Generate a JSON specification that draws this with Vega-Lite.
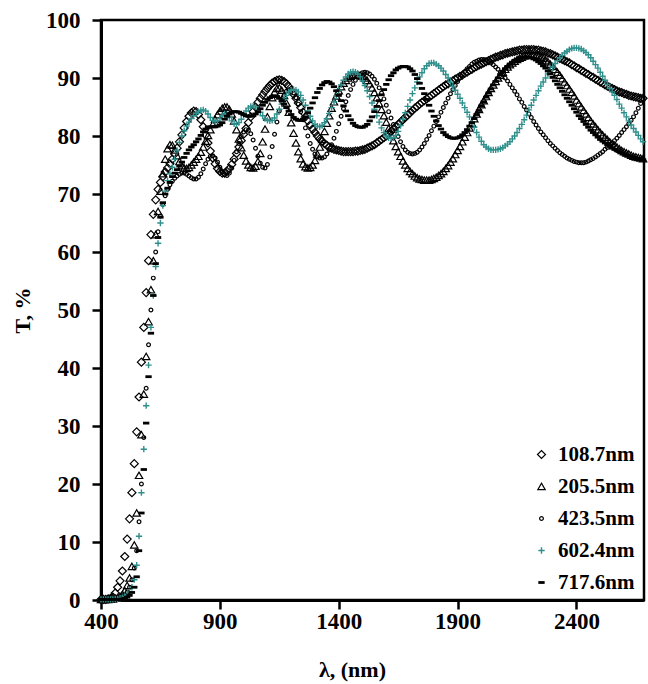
{
  "$schema": "https://vega.github.io/schema/vega-lite/v6.json",
  "width": 543,
  "height": 580,
  "autosize": {"type": "none"},
  "padding": {"left": 101, "top": 20, "right": 4, "bottom": 84},
  "background": "white",
  "config": {
    "font": "Liberation Serif",
    "view": {"stroke": "black", "strokeWidth": 2.5},
    "axis": {
      "grid": false,
      "labelFont": "Liberation Serif",
      "labelFontWeight": "bold",
      "labelFontSize": 23,
      "labelColor": "black",
      "labelFlush": false,
      "labelOverlap": false,
      "titleFont": "Liberation Serif",
      "titleFontWeight": "bold",
      "titleFontSize": 22,
      "titleColor": "black",
      "domainColor": "black",
      "domainWidth": 3,
      "tickColor": "black",
      "tickWidth": 2.5,
      "tickSize": 9
    },
    "legend": {
      "orient": "none",
      "legendX": 430,
      "legendY": 424,
      "padding": 0,
      "labelFont": "Liberation Serif",
      "labelFontWeight": "bold",
      "labelFontSize": 21,
      "labelColor": "black",
      "labelOffset": 6,
      "rowPadding": 10,
      "symbolOpacity": 1
    }
  },
  "data": {
    "values": [
      {"s":"108.7nm","nm":400,"T":0.1},{"s":"108.7nm","nm":410,"T":0.1},{"s":"108.7nm","nm":420,"T":0.1},{"s":"108.7nm","nm":430,"T":0.2},{"s":"108.7nm","nm":440,"T":0.3},{"s":"108.7nm","nm":450,"T":0.5},{"s":"108.7nm","nm":460,"T":1.2},{"s":"108.7nm","nm":470,"T":2.2},{"s":"108.7nm","nm":480,"T":3.3},{"s":"108.7nm","nm":490,"T":5},
      {"s":"108.7nm","nm":500,"T":7.5},{"s":"108.7nm","nm":510,"T":10.5},{"s":"108.7nm","nm":520,"T":14},{"s":"108.7nm","nm":530,"T":18.5},{"s":"108.7nm","nm":540,"T":23.5},{"s":"108.7nm","nm":550,"T":29},{"s":"108.7nm","nm":560,"T":35},{"s":"108.7nm","nm":570,"T":41},{"s":"108.7nm","nm":580,"T":47},{"s":"108.7nm","nm":590,"T":53},
      {"s":"108.7nm","nm":600,"T":58.5},{"s":"108.7nm","nm":610,"T":63},{"s":"108.7nm","nm":620,"T":66.5},{"s":"108.7nm","nm":630,"T":69},{"s":"108.7nm","nm":640,"T":70.8},{"s":"108.7nm","nm":650,"T":72},{"s":"108.7nm","nm":660,"T":73},{"s":"108.7nm","nm":670,"T":73.8},{"s":"108.7nm","nm":680,"T":74.5},{"s":"108.7nm","nm":690,"T":75.2},
      {"s":"108.7nm","nm":700,"T":76},{"s":"108.7nm","nm":710,"T":76.9},{"s":"108.7nm","nm":720,"T":77.9},{"s":"108.7nm","nm":730,"T":79},{"s":"108.7nm","nm":740,"T":80.2},{"s":"108.7nm","nm":750,"T":81.4},{"s":"108.7nm","nm":760,"T":82.5},{"s":"108.7nm","nm":770,"T":83.4},{"s":"108.7nm","nm":780,"T":84},{"s":"108.7nm","nm":790,"T":84.3},
      {"s":"108.7nm","nm":800,"T":84.2},{"s":"108.7nm","nm":810,"T":83.7},{"s":"108.7nm","nm":820,"T":82.8},{"s":"108.7nm","nm":830,"T":81.6},{"s":"108.7nm","nm":840,"T":80.2},{"s":"108.7nm","nm":850,"T":78.8},{"s":"108.7nm","nm":860,"T":77.4},{"s":"108.7nm","nm":870,"T":76.2},{"s":"108.7nm","nm":880,"T":75.2},{"s":"108.7nm","nm":890,"T":74.4},
      {"s":"108.7nm","nm":900,"T":73.9},{"s":"108.7nm","nm":910,"T":73.6},{"s":"108.7nm","nm":920,"T":73.6},{"s":"108.7nm","nm":930,"T":73.9},{"s":"108.7nm","nm":940,"T":74.4},{"s":"108.7nm","nm":950,"T":75.1},{"s":"108.7nm","nm":960,"T":76},{"s":"108.7nm","nm":970,"T":77},{"s":"108.7nm","nm":980,"T":78.1},{"s":"108.7nm","nm":990,"T":79.2},
      {"s":"108.7nm","nm":1000,"T":80.3},{"s":"108.7nm","nm":1010,"T":81.3},{"s":"108.7nm","nm":1020,"T":82.3},{"s":"108.7nm","nm":1030,"T":83.3},{"s":"108.7nm","nm":1040,"T":84.2},{"s":"108.7nm","nm":1050,"T":85},{"s":"108.7nm","nm":1060,"T":85.8},{"s":"108.7nm","nm":1070,"T":86.5},{"s":"108.7nm","nm":1080,"T":87.1},{"s":"108.7nm","nm":1090,"T":87.7},
      {"s":"108.7nm","nm":1100,"T":88.2},{"s":"108.7nm","nm":1110,"T":88.7},{"s":"108.7nm","nm":1120,"T":89.1},{"s":"108.7nm","nm":1130,"T":89.4},{"s":"108.7nm","nm":1140,"T":89.6},{"s":"108.7nm","nm":1150,"T":89.7},{"s":"108.7nm","nm":1160,"T":89.6},{"s":"108.7nm","nm":1170,"T":89.4},{"s":"108.7nm","nm":1180,"T":89},{"s":"108.7nm","nm":1190,"T":88.5},
      {"s":"108.7nm","nm":1200,"T":87.9},{"s":"108.7nm","nm":1210,"T":87.2},{"s":"108.7nm","nm":1220,"T":86.5},{"s":"108.7nm","nm":1230,"T":85.7},{"s":"108.7nm","nm":1240,"T":84.9},{"s":"108.7nm","nm":1250,"T":84.1},{"s":"108.7nm","nm":1260,"T":83.3},{"s":"108.7nm","nm":1270,"T":82.6},{"s":"108.7nm","nm":1280,"T":81.9},{"s":"108.7nm","nm":1290,"T":81.2},
      {"s":"108.7nm","nm":1300,"T":80.6},{"s":"108.7nm","nm":1310,"T":80},{"s":"108.7nm","nm":1320,"T":79.5},{"s":"108.7nm","nm":1330,"T":79.1},{"s":"108.7nm","nm":1340,"T":78.7},{"s":"108.7nm","nm":1350,"T":78.4},{"s":"108.7nm","nm":1360,"T":78.1},{"s":"108.7nm","nm":1370,"T":77.9},{"s":"108.7nm","nm":1380,"T":77.7},{"s":"108.7nm","nm":1390,"T":77.6},
      {"s":"108.7nm","nm":1400,"T":77.5},{"s":"108.7nm","nm":1410,"T":77.4},{"s":"108.7nm","nm":1420,"T":77.3},{"s":"108.7nm","nm":1430,"T":77.3},{"s":"108.7nm","nm":1440,"T":77.3},{"s":"108.7nm","nm":1450,"T":77.3},{"s":"108.7nm","nm":1460,"T":77.3},{"s":"108.7nm","nm":1470,"T":77.4},{"s":"108.7nm","nm":1480,"T":77.4},{"s":"108.7nm","nm":1490,"T":77.5},
      {"s":"108.7nm","nm":1500,"T":77.6},{"s":"108.7nm","nm":1510,"T":77.7},{"s":"108.7nm","nm":1520,"T":77.9},{"s":"108.7nm","nm":1530,"T":78.1},{"s":"108.7nm","nm":1540,"T":78.3},{"s":"108.7nm","nm":1550,"T":78.5},{"s":"108.7nm","nm":1560,"T":78.8},{"s":"108.7nm","nm":1570,"T":79.1},{"s":"108.7nm","nm":1580,"T":79.4},{"s":"108.7nm","nm":1590,"T":79.7},
      {"s":"108.7nm","nm":1600,"T":80},{"s":"108.7nm","nm":1610,"T":80.4},{"s":"108.7nm","nm":1620,"T":80.8},{"s":"108.7nm","nm":1630,"T":81.2},{"s":"108.7nm","nm":1640,"T":81.6},{"s":"108.7nm","nm":1650,"T":82},{"s":"108.7nm","nm":1660,"T":82.4},{"s":"108.7nm","nm":1670,"T":82.8},{"s":"108.7nm","nm":1680,"T":83.2},{"s":"108.7nm","nm":1690,"T":83.6},
      {"s":"108.7nm","nm":1700,"T":84},{"s":"108.7nm","nm":1710,"T":84.4},{"s":"108.7nm","nm":1720,"T":84.8},{"s":"108.7nm","nm":1730,"T":85.1},{"s":"108.7nm","nm":1740,"T":85.5},{"s":"108.7nm","nm":1750,"T":85.8},{"s":"108.7nm","nm":1760,"T":86.1},{"s":"108.7nm","nm":1770,"T":86.4},{"s":"108.7nm","nm":1780,"T":86.7},{"s":"108.7nm","nm":1790,"T":87},
      {"s":"108.7nm","nm":1800,"T":87.3},{"s":"108.7nm","nm":1810,"T":87.6},{"s":"108.7nm","nm":1820,"T":87.9},{"s":"108.7nm","nm":1830,"T":88.2},{"s":"108.7nm","nm":1840,"T":88.5},{"s":"108.7nm","nm":1850,"T":88.8},{"s":"108.7nm","nm":1860,"T":89},{"s":"108.7nm","nm":1870,"T":89.3},{"s":"108.7nm","nm":1880,"T":89.5},{"s":"108.7nm","nm":1890,"T":89.8},
      {"s":"108.7nm","nm":1900,"T":90},{"s":"108.7nm","nm":1910,"T":90.3},{"s":"108.7nm","nm":1920,"T":90.5},{"s":"108.7nm","nm":1930,"T":90.8},{"s":"108.7nm","nm":1940,"T":91},{"s":"108.7nm","nm":1950,"T":91.3},{"s":"108.7nm","nm":1960,"T":91.5},{"s":"108.7nm","nm":1970,"T":91.8},{"s":"108.7nm","nm":1980,"T":92},{"s":"108.7nm","nm":1990,"T":92.2},
      {"s":"108.7nm","nm":2000,"T":92.4},{"s":"108.7nm","nm":2010,"T":92.6},{"s":"108.7nm","nm":2020,"T":92.8},{"s":"108.7nm","nm":2030,"T":93},{"s":"108.7nm","nm":2040,"T":93.2},{"s":"108.7nm","nm":2050,"T":93.4},{"s":"108.7nm","nm":2060,"T":93.6},{"s":"108.7nm","nm":2070,"T":93.7},{"s":"108.7nm","nm":2080,"T":93.9},{"s":"108.7nm","nm":2090,"T":94},
      {"s":"108.7nm","nm":2100,"T":94.2},{"s":"108.7nm","nm":2110,"T":94.3},{"s":"108.7nm","nm":2120,"T":94.4},{"s":"108.7nm","nm":2130,"T":94.5},{"s":"108.7nm","nm":2140,"T":94.6},{"s":"108.7nm","nm":2150,"T":94.7},{"s":"108.7nm","nm":2160,"T":94.8},{"s":"108.7nm","nm":2170,"T":94.8},{"s":"108.7nm","nm":2180,"T":94.9},{"s":"108.7nm","nm":2190,"T":94.9},
      {"s":"108.7nm","nm":2200,"T":94.9},{"s":"108.7nm","nm":2210,"T":94.9},{"s":"108.7nm","nm":2220,"T":94.9},{"s":"108.7nm","nm":2230,"T":94.8},{"s":"108.7nm","nm":2240,"T":94.8},{"s":"108.7nm","nm":2250,"T":94.7},{"s":"108.7nm","nm":2260,"T":94.6},{"s":"108.7nm","nm":2270,"T":94.5},{"s":"108.7nm","nm":2280,"T":94.3},{"s":"108.7nm","nm":2290,"T":94.2},
      {"s":"108.7nm","nm":2300,"T":94},{"s":"108.7nm","nm":2310,"T":93.8},{"s":"108.7nm","nm":2320,"T":93.6},{"s":"108.7nm","nm":2330,"T":93.4},{"s":"108.7nm","nm":2340,"T":93.2},{"s":"108.7nm","nm":2350,"T":93},{"s":"108.7nm","nm":2360,"T":92.8},{"s":"108.7nm","nm":2370,"T":92.6},{"s":"108.7nm","nm":2380,"T":92.3},{"s":"108.7nm","nm":2390,"T":92.1},
      {"s":"108.7nm","nm":2400,"T":91.8},{"s":"108.7nm","nm":2410,"T":91.6},{"s":"108.7nm","nm":2420,"T":91.3},{"s":"108.7nm","nm":2430,"T":91.1},{"s":"108.7nm","nm":2440,"T":90.8},{"s":"108.7nm","nm":2450,"T":90.6},{"s":"108.7nm","nm":2460,"T":90.3},{"s":"108.7nm","nm":2470,"T":90.1},{"s":"108.7nm","nm":2480,"T":89.8},{"s":"108.7nm","nm":2490,"T":89.6},
      {"s":"108.7nm","nm":2500,"T":89.3},{"s":"108.7nm","nm":2510,"T":89.1},{"s":"108.7nm","nm":2520,"T":88.8},{"s":"108.7nm","nm":2530,"T":88.6},{"s":"108.7nm","nm":2540,"T":88.4},{"s":"108.7nm","nm":2550,"T":88.2},{"s":"108.7nm","nm":2560,"T":88},{"s":"108.7nm","nm":2570,"T":87.8},{"s":"108.7nm","nm":2580,"T":87.6},{"s":"108.7nm","nm":2590,"T":87.5},
      {"s":"108.7nm","nm":2600,"T":87.3},{"s":"108.7nm","nm":2610,"T":87.2},{"s":"108.7nm","nm":2620,"T":87},{"s":"108.7nm","nm":2630,"T":86.9},{"s":"108.7nm","nm":2640,"T":86.8},{"s":"108.7nm","nm":2650,"T":86.7},{"s":"108.7nm","nm":2660,"T":86.6},{"s":"108.7nm","nm":2670,"T":86.5},{"s":"108.7nm","nm":2680,"T":86.5},

      {"s":"205.5nm","nm":400,"T":0.1},{"s":"205.5nm","nm":410,"T":0.1},{"s":"205.5nm","nm":420,"T":0.1},{"s":"205.5nm","nm":430,"T":0.1},{"s":"205.5nm","nm":440,"T":0.2},{"s":"205.5nm","nm":450,"T":0.2},{"s":"205.5nm","nm":460,"T":0.3},{"s":"205.5nm","nm":470,"T":0.4},{"s":"205.5nm","nm":480,"T":0.6},{"s":"205.5nm","nm":490,"T":1},
      {"s":"205.5nm","nm":500,"T":1.6},{"s":"205.5nm","nm":510,"T":2.5},{"s":"205.5nm","nm":520,"T":3.8},{"s":"205.5nm","nm":530,"T":5.8},{"s":"205.5nm","nm":540,"T":9.5},{"s":"205.5nm","nm":550,"T":15},{"s":"205.5nm","nm":560,"T":21.5},{"s":"205.5nm","nm":570,"T":28.5},{"s":"205.5nm","nm":580,"T":35.5},{"s":"205.5nm","nm":590,"T":42},
      {"s":"205.5nm","nm":600,"T":48},{"s":"205.5nm","nm":610,"T":53.5},{"s":"205.5nm","nm":620,"T":58.5},{"s":"205.5nm","nm":630,"T":63},{"s":"205.5nm","nm":640,"T":67},{"s":"205.5nm","nm":650,"T":70.5},{"s":"205.5nm","nm":660,"T":73.5},{"s":"205.5nm","nm":670,"T":76},{"s":"205.5nm","nm":680,"T":77.8},{"s":"205.5nm","nm":690,"T":78.5},
      {"s":"205.5nm","nm":700,"T":78.4},{"s":"205.5nm","nm":710,"T":77.6},{"s":"205.5nm","nm":720,"T":76.6},{"s":"205.5nm","nm":730,"T":75.6},{"s":"205.5nm","nm":740,"T":74.9},{"s":"205.5nm","nm":750,"T":74.5},{"s":"205.5nm","nm":760,"T":74.4},{"s":"205.5nm","nm":770,"T":74.6},{"s":"205.5nm","nm":780,"T":75},{"s":"205.5nm","nm":790,"T":75.5},
      {"s":"205.5nm","nm":800,"T":76},{"s":"205.5nm","nm":810,"T":76.5},{"s":"205.5nm","nm":820,"T":77.2},{"s":"205.5nm","nm":830,"T":78.1},{"s":"205.5nm","nm":840,"T":79.1},{"s":"205.5nm","nm":850,"T":80.1},{"s":"205.5nm","nm":860,"T":81.1},{"s":"205.5nm","nm":870,"T":82},{"s":"205.5nm","nm":880,"T":82.9},{"s":"205.5nm","nm":890,"T":83.7},
      {"s":"205.5nm","nm":900,"T":84.3},{"s":"205.5nm","nm":910,"T":84.8},{"s":"205.5nm","nm":920,"T":85},{"s":"205.5nm","nm":930,"T":85},{"s":"205.5nm","nm":940,"T":84.6},{"s":"205.5nm","nm":950,"T":83.8},{"s":"205.5nm","nm":960,"T":82.6},{"s":"205.5nm","nm":970,"T":81.1},{"s":"205.5nm","nm":980,"T":79.5},{"s":"205.5nm","nm":990,"T":78},
      {"s":"205.5nm","nm":1000,"T":76.7},{"s":"205.5nm","nm":1010,"T":75.7},{"s":"205.5nm","nm":1020,"T":75},{"s":"205.5nm","nm":1030,"T":74.6},{"s":"205.5nm","nm":1040,"T":74.5},{"s":"205.5nm","nm":1050,"T":74.8},{"s":"205.5nm","nm":1060,"T":75.6},{"s":"205.5nm","nm":1070,"T":77},{"s":"205.5nm","nm":1080,"T":79},{"s":"205.5nm","nm":1090,"T":81.2},
      {"s":"205.5nm","nm":1100,"T":83.3},{"s":"205.5nm","nm":1110,"T":85.1},{"s":"205.5nm","nm":1120,"T":86.6},{"s":"205.5nm","nm":1130,"T":87.6},{"s":"205.5nm","nm":1140,"T":88.2},{"s":"205.5nm","nm":1150,"T":88.3},{"s":"205.5nm","nm":1160,"T":87.9},{"s":"205.5nm","nm":1170,"T":87},{"s":"205.5nm","nm":1180,"T":85.7},{"s":"205.5nm","nm":1190,"T":84.1},
      {"s":"205.5nm","nm":1200,"T":82.3},{"s":"205.5nm","nm":1210,"T":80.5},{"s":"205.5nm","nm":1220,"T":78.8},{"s":"205.5nm","nm":1230,"T":77.3},{"s":"205.5nm","nm":1240,"T":76.1},{"s":"205.5nm","nm":1250,"T":75.2},{"s":"205.5nm","nm":1260,"T":74.7},{"s":"205.5nm","nm":1270,"T":74.5},{"s":"205.5nm","nm":1280,"T":74.6},{"s":"205.5nm","nm":1290,"T":75},
      {"s":"205.5nm","nm":1300,"T":75.8},{"s":"205.5nm","nm":1310,"T":76.9},{"s":"205.5nm","nm":1320,"T":78.1},{"s":"205.5nm","nm":1330,"T":79.4},{"s":"205.5nm","nm":1340,"T":80.8},{"s":"205.5nm","nm":1350,"T":82.2},{"s":"205.5nm","nm":1360,"T":83.5},{"s":"205.5nm","nm":1370,"T":84.8},{"s":"205.5nm","nm":1380,"T":85.9},{"s":"205.5nm","nm":1390,"T":86.9},
      {"s":"205.5nm","nm":1400,"T":87.8},{"s":"205.5nm","nm":1410,"T":88.5},{"s":"205.5nm","nm":1420,"T":89.1},{"s":"205.5nm","nm":1430,"T":89.6},{"s":"205.5nm","nm":1440,"T":90},{"s":"205.5nm","nm":1450,"T":90.3},{"s":"205.5nm","nm":1460,"T":90.5},{"s":"205.5nm","nm":1470,"T":90.6},{"s":"205.5nm","nm":1480,"T":90.6},{"s":"205.5nm","nm":1490,"T":90.5},
      {"s":"205.5nm","nm":1500,"T":90.3},{"s":"205.5nm","nm":1510,"T":90},{"s":"205.5nm","nm":1520,"T":89.6},{"s":"205.5nm","nm":1530,"T":89},{"s":"205.5nm","nm":1540,"T":88.3},{"s":"205.5nm","nm":1550,"T":87.5},{"s":"205.5nm","nm":1560,"T":86.6},{"s":"205.5nm","nm":1570,"T":85.6},{"s":"205.5nm","nm":1580,"T":84.6},{"s":"205.5nm","nm":1590,"T":83.5},
      {"s":"205.5nm","nm":1600,"T":82.4},{"s":"205.5nm","nm":1610,"T":81.3},{"s":"205.5nm","nm":1620,"T":80.2},{"s":"205.5nm","nm":1630,"T":79.2},{"s":"205.5nm","nm":1640,"T":78.2},{"s":"205.5nm","nm":1650,"T":77.3},{"s":"205.5nm","nm":1660,"T":76.5},{"s":"205.5nm","nm":1670,"T":75.7},{"s":"205.5nm","nm":1680,"T":75},{"s":"205.5nm","nm":1690,"T":74.4},
      {"s":"205.5nm","nm":1700,"T":73.9},{"s":"205.5nm","nm":1710,"T":73.5},{"s":"205.5nm","nm":1720,"T":73.1},{"s":"205.5nm","nm":1730,"T":72.8},{"s":"205.5nm","nm":1740,"T":72.6},{"s":"205.5nm","nm":1750,"T":72.5},{"s":"205.5nm","nm":1760,"T":72.4},{"s":"205.5nm","nm":1770,"T":72.4},{"s":"205.5nm","nm":1780,"T":72.4},{"s":"205.5nm","nm":1790,"T":72.5},
      {"s":"205.5nm","nm":1800,"T":72.7},{"s":"205.5nm","nm":1810,"T":72.9},{"s":"205.5nm","nm":1820,"T":73.2},{"s":"205.5nm","nm":1830,"T":73.5},{"s":"205.5nm","nm":1840,"T":73.9},{"s":"205.5nm","nm":1850,"T":74.4},{"s":"205.5nm","nm":1860,"T":74.9},{"s":"205.5nm","nm":1870,"T":75.5},{"s":"205.5nm","nm":1880,"T":76.1},{"s":"205.5nm","nm":1890,"T":76.8},
      {"s":"205.5nm","nm":1900,"T":77.5},{"s":"205.5nm","nm":1910,"T":78.2},{"s":"205.5nm","nm":1920,"T":79},{"s":"205.5nm","nm":1930,"T":79.8},{"s":"205.5nm","nm":1940,"T":80.6},{"s":"205.5nm","nm":1950,"T":81.4},{"s":"205.5nm","nm":1960,"T":82.2},{"s":"205.5nm","nm":1970,"T":83},{"s":"205.5nm","nm":1980,"T":83.8},{"s":"205.5nm","nm":1990,"T":84.6},
      {"s":"205.5nm","nm":2000,"T":85.4},{"s":"205.5nm","nm":2010,"T":86.1},{"s":"205.5nm","nm":2020,"T":86.8},{"s":"205.5nm","nm":2030,"T":87.5},{"s":"205.5nm","nm":2040,"T":88.2},{"s":"205.5nm","nm":2050,"T":88.8},{"s":"205.5nm","nm":2060,"T":89.4},{"s":"205.5nm","nm":2070,"T":90},{"s":"205.5nm","nm":2080,"T":90.5},{"s":"205.5nm","nm":2090,"T":91},
      {"s":"205.5nm","nm":2100,"T":91.5},{"s":"205.5nm","nm":2110,"T":91.9},{"s":"205.5nm","nm":2120,"T":92.3},{"s":"205.5nm","nm":2130,"T":92.6},{"s":"205.5nm","nm":2140,"T":92.9},{"s":"205.5nm","nm":2150,"T":93.2},{"s":"205.5nm","nm":2160,"T":93.4},{"s":"205.5nm","nm":2170,"T":93.6},{"s":"205.5nm","nm":2180,"T":93.8},{"s":"205.5nm","nm":2190,"T":93.9},
      {"s":"205.5nm","nm":2200,"T":94},{"s":"205.5nm","nm":2210,"T":94},{"s":"205.5nm","nm":2220,"T":94},{"s":"205.5nm","nm":2230,"T":93.9},{"s":"205.5nm","nm":2240,"T":93.8},{"s":"205.5nm","nm":2250,"T":93.6},{"s":"205.5nm","nm":2260,"T":93.4},{"s":"205.5nm","nm":2270,"T":93.1},{"s":"205.5nm","nm":2280,"T":92.8},{"s":"205.5nm","nm":2290,"T":92.4},
      {"s":"205.5nm","nm":2300,"T":92},{"s":"205.5nm","nm":2310,"T":91.5},{"s":"205.5nm","nm":2320,"T":91},{"s":"205.5nm","nm":2330,"T":90.5},{"s":"205.5nm","nm":2340,"T":89.9},{"s":"205.5nm","nm":2350,"T":89.3},{"s":"205.5nm","nm":2360,"T":88.7},{"s":"205.5nm","nm":2370,"T":88.1},{"s":"205.5nm","nm":2380,"T":87.5},{"s":"205.5nm","nm":2390,"T":86.9},
      {"s":"205.5nm","nm":2400,"T":86.2},{"s":"205.5nm","nm":2410,"T":85.6},{"s":"205.5nm","nm":2420,"T":85},{"s":"205.5nm","nm":2430,"T":84.4},{"s":"205.5nm","nm":2440,"T":83.8},{"s":"205.5nm","nm":2450,"T":83.2},{"s":"205.5nm","nm":2460,"T":82.6},{"s":"205.5nm","nm":2470,"T":82.1},{"s":"205.5nm","nm":2480,"T":81.6},{"s":"205.5nm","nm":2490,"T":81.1},
      {"s":"205.5nm","nm":2500,"T":80.6},{"s":"205.5nm","nm":2510,"T":80.2},{"s":"205.5nm","nm":2520,"T":79.8},{"s":"205.5nm","nm":2530,"T":79.4},{"s":"205.5nm","nm":2540,"T":79},{"s":"205.5nm","nm":2550,"T":78.7},{"s":"205.5nm","nm":2560,"T":78.4},{"s":"205.5nm","nm":2570,"T":78.1},{"s":"205.5nm","nm":2580,"T":77.8},{"s":"205.5nm","nm":2590,"T":77.5},
      {"s":"205.5nm","nm":2600,"T":77.3},{"s":"205.5nm","nm":2610,"T":77.1},{"s":"205.5nm","nm":2620,"T":76.9},{"s":"205.5nm","nm":2630,"T":76.7},{"s":"205.5nm","nm":2640,"T":76.5},{"s":"205.5nm","nm":2650,"T":76.4},{"s":"205.5nm","nm":2660,"T":76.3},{"s":"205.5nm","nm":2670,"T":76.2},{"s":"205.5nm","nm":2680,"T":76.1},

      {"s":"423.5nm","nm":400,"T":0.1},{"s":"423.5nm","nm":410,"T":0.1},{"s":"423.5nm","nm":420,"T":0.1},{"s":"423.5nm","nm":430,"T":0.1},{"s":"423.5nm","nm":440,"T":0.1},{"s":"423.5nm","nm":450,"T":0.2},{"s":"423.5nm","nm":460,"T":0.2},{"s":"423.5nm","nm":470,"T":0.3},{"s":"423.5nm","nm":480,"T":0.4},{"s":"423.5nm","nm":490,"T":0.6},
      {"s":"423.5nm","nm":500,"T":0.9},{"s":"423.5nm","nm":510,"T":1.4},{"s":"423.5nm","nm":520,"T":2.2},{"s":"423.5nm","nm":530,"T":3.5},{"s":"423.5nm","nm":540,"T":5.5},{"s":"423.5nm","nm":550,"T":8.5},{"s":"423.5nm","nm":560,"T":13.5},{"s":"423.5nm","nm":570,"T":20},{"s":"423.5nm","nm":580,"T":28},{"s":"423.5nm","nm":590,"T":36.5},
      {"s":"423.5nm","nm":600,"T":44},{"s":"423.5nm","nm":610,"T":50},{"s":"423.5nm","nm":620,"T":55.5},{"s":"423.5nm","nm":630,"T":60},{"s":"423.5nm","nm":640,"T":63.5},{"s":"423.5nm","nm":650,"T":66.2},{"s":"423.5nm","nm":660,"T":68.2},{"s":"423.5nm","nm":670,"T":69.7},{"s":"423.5nm","nm":680,"T":70.8},{"s":"423.5nm","nm":690,"T":71.6},
      {"s":"423.5nm","nm":700,"T":72.2},{"s":"423.5nm","nm":710,"T":72.7},{"s":"423.5nm","nm":720,"T":73.1},{"s":"423.5nm","nm":730,"T":73.4},{"s":"423.5nm","nm":740,"T":73.6},{"s":"423.5nm","nm":750,"T":73.6},{"s":"423.5nm","nm":760,"T":73.4},{"s":"423.5nm","nm":770,"T":73.1},{"s":"423.5nm","nm":780,"T":72.8},{"s":"423.5nm","nm":790,"T":72.6},
      {"s":"423.5nm","nm":800,"T":72.6},{"s":"423.5nm","nm":810,"T":72.9},{"s":"423.5nm","nm":820,"T":73.5},{"s":"423.5nm","nm":830,"T":74.3},{"s":"423.5nm","nm":840,"T":75.2},{"s":"423.5nm","nm":850,"T":76},{"s":"423.5nm","nm":860,"T":76.5},{"s":"423.5nm","nm":870,"T":76.6},{"s":"423.5nm","nm":880,"T":76.2},{"s":"423.5nm","nm":890,"T":75.5},
      {"s":"423.5nm","nm":900,"T":74.6},{"s":"423.5nm","nm":910,"T":73.8},{"s":"423.5nm","nm":920,"T":73.3},{"s":"423.5nm","nm":930,"T":73.2},{"s":"423.5nm","nm":940,"T":73.6},{"s":"423.5nm","nm":950,"T":74.5},{"s":"423.5nm","nm":960,"T":75.8},{"s":"423.5nm","nm":970,"T":77.3},{"s":"423.5nm","nm":980,"T":78.7},{"s":"423.5nm","nm":990,"T":79.9},
      {"s":"423.5nm","nm":1000,"T":80.7},{"s":"423.5nm","nm":1010,"T":81.1},{"s":"423.5nm","nm":1020,"T":81},{"s":"423.5nm","nm":1030,"T":80.4},{"s":"423.5nm","nm":1040,"T":79.3},{"s":"423.5nm","nm":1050,"T":77.9},{"s":"423.5nm","nm":1060,"T":76.5},{"s":"423.5nm","nm":1070,"T":75.3},{"s":"423.5nm","nm":1080,"T":74.6},{"s":"423.5nm","nm":1090,"T":74.5},
      {"s":"423.5nm","nm":1100,"T":75.1},{"s":"423.5nm","nm":1110,"T":76.4},{"s":"423.5nm","nm":1120,"T":78.2},{"s":"423.5nm","nm":1130,"T":80.3},{"s":"423.5nm","nm":1140,"T":82.4},{"s":"423.5nm","nm":1150,"T":84.3},{"s":"423.5nm","nm":1160,"T":85.9},{"s":"423.5nm","nm":1170,"T":87},{"s":"423.5nm","nm":1180,"T":87.7},{"s":"423.5nm","nm":1190,"T":88},
      {"s":"423.5nm","nm":1200,"T":87.9},{"s":"423.5nm","nm":1210,"T":87.4},{"s":"423.5nm","nm":1220,"T":86.6},{"s":"423.5nm","nm":1230,"T":85.5},{"s":"423.5nm","nm":1240,"T":84.2},{"s":"423.5nm","nm":1250,"T":82.8},{"s":"423.5nm","nm":1260,"T":81.4},{"s":"423.5nm","nm":1270,"T":80},{"s":"423.5nm","nm":1280,"T":78.7},{"s":"423.5nm","nm":1290,"T":77.7},
      {"s":"423.5nm","nm":1300,"T":76.9},{"s":"423.5nm","nm":1310,"T":76.4},{"s":"423.5nm","nm":1320,"T":76.2},{"s":"423.5nm","nm":1330,"T":76.2},{"s":"423.5nm","nm":1340,"T":76.4},{"s":"423.5nm","nm":1350,"T":76.9},{"s":"423.5nm","nm":1360,"T":77.6},{"s":"423.5nm","nm":1370,"T":78.5},{"s":"423.5nm","nm":1380,"T":79.6},{"s":"423.5nm","nm":1390,"T":80.8},
      {"s":"423.5nm","nm":1400,"T":82.1},{"s":"423.5nm","nm":1410,"T":83.4},{"s":"423.5nm","nm":1420,"T":84.7},{"s":"423.5nm","nm":1430,"T":85.9},{"s":"423.5nm","nm":1440,"T":87},{"s":"423.5nm","nm":1450,"T":88},{"s":"423.5nm","nm":1460,"T":88.9},{"s":"423.5nm","nm":1470,"T":89.6},{"s":"423.5nm","nm":1480,"T":90.2},{"s":"423.5nm","nm":1490,"T":90.6},
      {"s":"423.5nm","nm":1500,"T":90.9},{"s":"423.5nm","nm":1510,"T":91},{"s":"423.5nm","nm":1520,"T":90.9},{"s":"423.5nm","nm":1530,"T":90.7},{"s":"423.5nm","nm":1540,"T":90.3},{"s":"423.5nm","nm":1550,"T":89.8},{"s":"423.5nm","nm":1560,"T":89.1},{"s":"423.5nm","nm":1570,"T":88.3},{"s":"423.5nm","nm":1580,"T":87.4},{"s":"423.5nm","nm":1590,"T":86.4},
      {"s":"423.5nm","nm":1600,"T":85.3},{"s":"423.5nm","nm":1610,"T":84.2},{"s":"423.5nm","nm":1620,"T":83.1},{"s":"423.5nm","nm":1630,"T":82},{"s":"423.5nm","nm":1640,"T":80.9},{"s":"423.5nm","nm":1650,"T":79.9},{"s":"423.5nm","nm":1660,"T":79},{"s":"423.5nm","nm":1670,"T":78.2},{"s":"423.5nm","nm":1680,"T":77.6},{"s":"423.5nm","nm":1690,"T":77.2},
      {"s":"423.5nm","nm":1700,"T":77},{"s":"423.5nm","nm":1710,"T":76.9},{"s":"423.5nm","nm":1720,"T":77},{"s":"423.5nm","nm":1730,"T":77.2},{"s":"423.5nm","nm":1740,"T":77.6},{"s":"423.5nm","nm":1750,"T":78.1},{"s":"423.5nm","nm":1760,"T":78.7},{"s":"423.5nm","nm":1770,"T":79.4},{"s":"423.5nm","nm":1780,"T":80.1},{"s":"423.5nm","nm":1790,"T":80.9},
      {"s":"423.5nm","nm":1800,"T":81.7},{"s":"423.5nm","nm":1810,"T":82.5},{"s":"423.5nm","nm":1820,"T":83.3},{"s":"423.5nm","nm":1830,"T":84.1},{"s":"423.5nm","nm":1840,"T":84.9},{"s":"423.5nm","nm":1850,"T":85.7},{"s":"423.5nm","nm":1860,"T":86.5},{"s":"423.5nm","nm":1870,"T":87.3},{"s":"423.5nm","nm":1880,"T":88},{"s":"423.5nm","nm":1890,"T":88.7},
      {"s":"423.5nm","nm":1900,"T":89.4},{"s":"423.5nm","nm":1910,"T":90},{"s":"423.5nm","nm":1920,"T":90.6},{"s":"423.5nm","nm":1930,"T":91.1},{"s":"423.5nm","nm":1940,"T":91.6},{"s":"423.5nm","nm":1950,"T":92},{"s":"423.5nm","nm":1960,"T":92.4},{"s":"423.5nm","nm":1970,"T":92.7},{"s":"423.5nm","nm":1980,"T":92.9},{"s":"423.5nm","nm":1990,"T":93.1},
      {"s":"423.5nm","nm":2000,"T":93.2},{"s":"423.5nm","nm":2010,"T":93.2},{"s":"423.5nm","nm":2020,"T":93.1},{"s":"423.5nm","nm":2030,"T":92.9},{"s":"423.5nm","nm":2040,"T":92.6},{"s":"423.5nm","nm":2050,"T":92.3},{"s":"423.5nm","nm":2060,"T":91.9},{"s":"423.5nm","nm":2070,"T":91.5},{"s":"423.5nm","nm":2080,"T":91},{"s":"423.5nm","nm":2090,"T":90.5},
      {"s":"423.5nm","nm":2100,"T":90},{"s":"423.5nm","nm":2110,"T":89.5},{"s":"423.5nm","nm":2120,"T":88.9},{"s":"423.5nm","nm":2130,"T":88.3},{"s":"423.5nm","nm":2140,"T":87.7},{"s":"423.5nm","nm":2150,"T":87.1},{"s":"423.5nm","nm":2160,"T":86.4},{"s":"423.5nm","nm":2170,"T":85.8},{"s":"423.5nm","nm":2180,"T":85.1},{"s":"423.5nm","nm":2190,"T":84.5},
      {"s":"423.5nm","nm":2200,"T":83.8},{"s":"423.5nm","nm":2210,"T":83.2},{"s":"423.5nm","nm":2220,"T":82.5},{"s":"423.5nm","nm":2230,"T":81.9},{"s":"423.5nm","nm":2240,"T":81.3},{"s":"423.5nm","nm":2250,"T":80.7},{"s":"423.5nm","nm":2260,"T":80.2},{"s":"423.5nm","nm":2270,"T":79.7},{"s":"423.5nm","nm":2280,"T":79.2},{"s":"423.5nm","nm":2290,"T":78.7},
      {"s":"423.5nm","nm":2300,"T":78.3},{"s":"423.5nm","nm":2310,"T":77.9},{"s":"423.5nm","nm":2320,"T":77.5},{"s":"423.5nm","nm":2330,"T":77.1},{"s":"423.5nm","nm":2340,"T":76.8},{"s":"423.5nm","nm":2350,"T":76.5},{"s":"423.5nm","nm":2360,"T":76.2},{"s":"423.5nm","nm":2370,"T":76},{"s":"423.5nm","nm":2380,"T":75.8},{"s":"423.5nm","nm":2390,"T":75.6},
      {"s":"423.5nm","nm":2400,"T":75.5},{"s":"423.5nm","nm":2410,"T":75.4},{"s":"423.5nm","nm":2420,"T":75.4},{"s":"423.5nm","nm":2430,"T":75.4},{"s":"423.5nm","nm":2440,"T":75.5},{"s":"423.5nm","nm":2450,"T":75.7},{"s":"423.5nm","nm":2460,"T":75.9},{"s":"423.5nm","nm":2470,"T":76.1},{"s":"423.5nm","nm":2480,"T":76.4},{"s":"423.5nm","nm":2490,"T":76.7},
      {"s":"423.5nm","nm":2500,"T":77},{"s":"423.5nm","nm":2510,"T":77.3},{"s":"423.5nm","nm":2520,"T":77.7},{"s":"423.5nm","nm":2530,"T":78},{"s":"423.5nm","nm":2540,"T":78.4},{"s":"423.5nm","nm":2550,"T":78.8},{"s":"423.5nm","nm":2560,"T":79.2},{"s":"423.5nm","nm":2570,"T":79.6},{"s":"423.5nm","nm":2580,"T":80.1},{"s":"423.5nm","nm":2590,"T":80.6},
      {"s":"423.5nm","nm":2600,"T":81.1},{"s":"423.5nm","nm":2610,"T":81.6},{"s":"423.5nm","nm":2620,"T":82.1},{"s":"423.5nm","nm":2630,"T":82.7},{"s":"423.5nm","nm":2640,"T":83.3},{"s":"423.5nm","nm":2650,"T":84},{"s":"423.5nm","nm":2660,"T":84.8},{"s":"423.5nm","nm":2670,"T":85.6},{"s":"423.5nm","nm":2680,"T":86.4},

      {"s":"602.4nm","nm":400,"T":0.1},{"s":"602.4nm","nm":410,"T":0.1},{"s":"602.4nm","nm":420,"T":0.1},{"s":"602.4nm","nm":430,"T":0.1},{"s":"602.4nm","nm":440,"T":0.1},{"s":"602.4nm","nm":450,"T":0.1},{"s":"602.4nm","nm":460,"T":0.2},{"s":"602.4nm","nm":470,"T":0.2},{"s":"602.4nm","nm":480,"T":0.3},{"s":"602.4nm","nm":490,"T":0.4},
      {"s":"602.4nm","nm":500,"T":0.6},{"s":"602.4nm","nm":510,"T":0.9},{"s":"602.4nm","nm":520,"T":1.4},{"s":"602.4nm","nm":530,"T":2.2},{"s":"602.4nm","nm":540,"T":3.5},{"s":"602.4nm","nm":550,"T":6},{"s":"602.4nm","nm":560,"T":11},{"s":"602.4nm","nm":570,"T":18.5},{"s":"602.4nm","nm":580,"T":26},{"s":"602.4nm","nm":590,"T":33.5},
      {"s":"602.4nm","nm":600,"T":40.5},{"s":"602.4nm","nm":610,"T":47},{"s":"602.4nm","nm":620,"T":52.5},{"s":"602.4nm","nm":630,"T":57.5},{"s":"602.4nm","nm":640,"T":61.5},{"s":"602.4nm","nm":650,"T":65},{"s":"602.4nm","nm":660,"T":68},{"s":"602.4nm","nm":670,"T":70.5},{"s":"602.4nm","nm":680,"T":72.3},{"s":"602.4nm","nm":690,"T":73.5},
      {"s":"602.4nm","nm":700,"T":74.6},{"s":"602.4nm","nm":710,"T":76},{"s":"602.4nm","nm":720,"T":77.5},{"s":"602.4nm","nm":730,"T":78.9},{"s":"602.4nm","nm":740,"T":80},{"s":"602.4nm","nm":750,"T":80.9},{"s":"602.4nm","nm":760,"T":81.7},{"s":"602.4nm","nm":770,"T":82.4},{"s":"602.4nm","nm":780,"T":83},{"s":"602.4nm","nm":790,"T":83.5},
      {"s":"602.4nm","nm":800,"T":83.9},{"s":"602.4nm","nm":810,"T":84.2},{"s":"602.4nm","nm":820,"T":84.4},{"s":"602.4nm","nm":830,"T":84.5},{"s":"602.4nm","nm":840,"T":84.3},{"s":"602.4nm","nm":850,"T":83.8},{"s":"602.4nm","nm":860,"T":83.2},{"s":"602.4nm","nm":870,"T":82.7},{"s":"602.4nm","nm":880,"T":82.5},{"s":"602.4nm","nm":890,"T":82.6},
      {"s":"602.4nm","nm":900,"T":83},{"s":"602.4nm","nm":910,"T":83.5},{"s":"602.4nm","nm":920,"T":83.8},{"s":"602.4nm","nm":930,"T":83.7},{"s":"602.4nm","nm":940,"T":83.2},{"s":"602.4nm","nm":950,"T":82.6},{"s":"602.4nm","nm":960,"T":82.1},{"s":"602.4nm","nm":970,"T":82},{"s":"602.4nm","nm":980,"T":82.3},{"s":"602.4nm","nm":990,"T":82.9},
      {"s":"602.4nm","nm":1000,"T":83.6},{"s":"602.4nm","nm":1010,"T":84.3},{"s":"602.4nm","nm":1020,"T":84.8},{"s":"602.4nm","nm":1030,"T":85.1},{"s":"602.4nm","nm":1040,"T":85.2},{"s":"602.4nm","nm":1050,"T":85},{"s":"602.4nm","nm":1060,"T":84.6},{"s":"602.4nm","nm":1070,"T":84.1},{"s":"602.4nm","nm":1080,"T":83.5},{"s":"602.4nm","nm":1090,"T":83},
      {"s":"602.4nm","nm":1100,"T":82.7},{"s":"602.4nm","nm":1110,"T":82.6},{"s":"602.4nm","nm":1120,"T":82.7},{"s":"602.4nm","nm":1130,"T":83.1},{"s":"602.4nm","nm":1140,"T":83.8},{"s":"602.4nm","nm":1150,"T":84.6},{"s":"602.4nm","nm":1160,"T":85.5},{"s":"602.4nm","nm":1170,"T":86.3},{"s":"602.4nm","nm":1180,"T":87},{"s":"602.4nm","nm":1190,"T":87.6},
      {"s":"602.4nm","nm":1200,"T":87.9},{"s":"602.4nm","nm":1210,"T":88},{"s":"602.4nm","nm":1220,"T":87.9},{"s":"602.4nm","nm":1230,"T":87.6},{"s":"602.4nm","nm":1240,"T":87},{"s":"602.4nm","nm":1250,"T":86.2},{"s":"602.4nm","nm":1260,"T":85.3},{"s":"602.4nm","nm":1270,"T":84.3},{"s":"602.4nm","nm":1280,"T":83.4},{"s":"602.4nm","nm":1290,"T":82.6},
      {"s":"602.4nm","nm":1300,"T":82},{"s":"602.4nm","nm":1310,"T":81.7},{"s":"602.4nm","nm":1320,"T":81.6},{"s":"602.4nm","nm":1330,"T":81.8},{"s":"602.4nm","nm":1340,"T":82.3},{"s":"602.4nm","nm":1350,"T":83},{"s":"602.4nm","nm":1360,"T":83.9},{"s":"602.4nm","nm":1370,"T":84.9},{"s":"602.4nm","nm":1380,"T":85.9},{"s":"602.4nm","nm":1390,"T":86.9},
      {"s":"602.4nm","nm":1400,"T":87.9},{"s":"602.4nm","nm":1410,"T":88.8},{"s":"602.4nm","nm":1420,"T":89.6},{"s":"602.4nm","nm":1430,"T":90.2},{"s":"602.4nm","nm":1440,"T":90.7},{"s":"602.4nm","nm":1450,"T":91},{"s":"602.4nm","nm":1460,"T":91.1},{"s":"602.4nm","nm":1470,"T":91},{"s":"602.4nm","nm":1480,"T":90.7},{"s":"602.4nm","nm":1490,"T":90.2},
      {"s":"602.4nm","nm":1500,"T":89.5},{"s":"602.4nm","nm":1510,"T":88.7},{"s":"602.4nm","nm":1520,"T":87.8},{"s":"602.4nm","nm":1530,"T":86.8},{"s":"602.4nm","nm":1540,"T":85.7},{"s":"602.4nm","nm":1550,"T":84.6},{"s":"602.4nm","nm":1560,"T":83.5},{"s":"602.4nm","nm":1570,"T":82.4},{"s":"602.4nm","nm":1580,"T":81.4},{"s":"602.4nm","nm":1590,"T":80.6},
      {"s":"602.4nm","nm":1600,"T":80},{"s":"602.4nm","nm":1610,"T":79.7},{"s":"602.4nm","nm":1620,"T":79.6},{"s":"602.4nm","nm":1630,"T":79.7},{"s":"602.4nm","nm":1640,"T":80.1},{"s":"602.4nm","nm":1650,"T":80.8},{"s":"602.4nm","nm":1660,"T":81.8},{"s":"602.4nm","nm":1670,"T":82.9},{"s":"602.4nm","nm":1680,"T":84},{"s":"602.4nm","nm":1690,"T":85.1},
      {"s":"602.4nm","nm":1700,"T":86.2},{"s":"602.4nm","nm":1710,"T":87.3},{"s":"602.4nm","nm":1720,"T":88.3},{"s":"602.4nm","nm":1730,"T":89.3},{"s":"602.4nm","nm":1740,"T":90.2},{"s":"602.4nm","nm":1750,"T":90.9},{"s":"602.4nm","nm":1760,"T":91.6},{"s":"602.4nm","nm":1770,"T":92.1},{"s":"602.4nm","nm":1780,"T":92.5},{"s":"602.4nm","nm":1790,"T":92.6},
      {"s":"602.4nm","nm":1800,"T":92.6},{"s":"602.4nm","nm":1810,"T":92.4},{"s":"602.4nm","nm":1820,"T":92.1},{"s":"602.4nm","nm":1830,"T":91.7},{"s":"602.4nm","nm":1840,"T":91.2},{"s":"602.4nm","nm":1850,"T":90.6},{"s":"602.4nm","nm":1860,"T":90},{"s":"602.4nm","nm":1870,"T":89.3},{"s":"602.4nm","nm":1880,"T":88.6},{"s":"602.4nm","nm":1890,"T":87.9},
      {"s":"602.4nm","nm":1900,"T":87.2},{"s":"602.4nm","nm":1910,"T":86.5},{"s":"602.4nm","nm":1920,"T":85.7},{"s":"602.4nm","nm":1930,"T":84.9},{"s":"602.4nm","nm":1940,"T":84.1},{"s":"602.4nm","nm":1950,"T":83.3},{"s":"602.4nm","nm":1960,"T":82.4},{"s":"602.4nm","nm":1970,"T":81.5},{"s":"602.4nm","nm":1980,"T":80.6},{"s":"602.4nm","nm":1990,"T":79.8},
      {"s":"602.4nm","nm":2000,"T":79.1},{"s":"602.4nm","nm":2010,"T":78.5},{"s":"602.4nm","nm":2020,"T":78.1},{"s":"602.4nm","nm":2030,"T":77.8},{"s":"602.4nm","nm":2040,"T":77.6},{"s":"602.4nm","nm":2050,"T":77.6},{"s":"602.4nm","nm":2060,"T":77.6},{"s":"602.4nm","nm":2070,"T":77.7},{"s":"602.4nm","nm":2080,"T":77.8},{"s":"602.4nm","nm":2090,"T":78},
      {"s":"602.4nm","nm":2100,"T":78.3},{"s":"602.4nm","nm":2110,"T":78.6},{"s":"602.4nm","nm":2120,"T":79},{"s":"602.4nm","nm":2130,"T":79.5},{"s":"602.4nm","nm":2140,"T":80},{"s":"602.4nm","nm":2150,"T":80.6},{"s":"602.4nm","nm":2160,"T":81.3},{"s":"602.4nm","nm":2170,"T":82},{"s":"602.4nm","nm":2180,"T":82.8},{"s":"602.4nm","nm":2190,"T":83.6},
      {"s":"602.4nm","nm":2200,"T":84.5},{"s":"602.4nm","nm":2210,"T":85.3},{"s":"602.4nm","nm":2220,"T":86.2},{"s":"602.4nm","nm":2230,"T":87},{"s":"602.4nm","nm":2240,"T":87.8},{"s":"602.4nm","nm":2250,"T":88.6},{"s":"602.4nm","nm":2260,"T":89.3},{"s":"602.4nm","nm":2270,"T":90},{"s":"602.4nm","nm":2280,"T":90.7},{"s":"602.4nm","nm":2290,"T":91.3},
      {"s":"602.4nm","nm":2300,"T":91.9},{"s":"602.4nm","nm":2310,"T":92.5},{"s":"602.4nm","nm":2320,"T":93},{"s":"602.4nm","nm":2330,"T":93.5},{"s":"602.4nm","nm":2340,"T":93.9},{"s":"602.4nm","nm":2350,"T":94.3},{"s":"602.4nm","nm":2360,"T":94.6},{"s":"602.4nm","nm":2370,"T":94.9},{"s":"602.4nm","nm":2380,"T":95.1},{"s":"602.4nm","nm":2390,"T":95.2},
      {"s":"602.4nm","nm":2400,"T":95.2},{"s":"602.4nm","nm":2410,"T":95.1},{"s":"602.4nm","nm":2420,"T":95},{"s":"602.4nm","nm":2430,"T":94.7},{"s":"602.4nm","nm":2440,"T":94.4},{"s":"602.4nm","nm":2450,"T":94},{"s":"602.4nm","nm":2460,"T":93.5},{"s":"602.4nm","nm":2470,"T":92.9},{"s":"602.4nm","nm":2480,"T":92.3},{"s":"602.4nm","nm":2490,"T":91.7},
      {"s":"602.4nm","nm":2500,"T":91},{"s":"602.4nm","nm":2510,"T":90.3},{"s":"602.4nm","nm":2520,"T":89.6},{"s":"602.4nm","nm":2530,"T":88.9},{"s":"602.4nm","nm":2540,"T":88.2},{"s":"602.4nm","nm":2550,"T":87.6},{"s":"602.4nm","nm":2560,"T":87},{"s":"602.4nm","nm":2570,"T":86.3},{"s":"602.4nm","nm":2580,"T":85.5},{"s":"602.4nm","nm":2590,"T":84.8},
      {"s":"602.4nm","nm":2600,"T":84},{"s":"602.4nm","nm":2610,"T":83.3},{"s":"602.4nm","nm":2620,"T":82.6},{"s":"602.4nm","nm":2630,"T":81.9},{"s":"602.4nm","nm":2640,"T":81.3},{"s":"602.4nm","nm":2650,"T":80.7},{"s":"602.4nm","nm":2660,"T":80.1},{"s":"602.4nm","nm":2670,"T":79.5},{"s":"602.4nm","nm":2680,"T":79},

      {"s":"717.6nm","nm":400,"T":0.1},{"s":"717.6nm","nm":410,"T":0.1},{"s":"717.6nm","nm":420,"T":0.1},{"s":"717.6nm","nm":430,"T":0.1},{"s":"717.6nm","nm":440,"T":0.1},{"s":"717.6nm","nm":450,"T":0.1},{"s":"717.6nm","nm":460,"T":0.1},{"s":"717.6nm","nm":470,"T":0.1},{"s":"717.6nm","nm":480,"T":0.1},{"s":"717.6nm","nm":490,"T":0.2},
      {"s":"717.6nm","nm":500,"T":0.3},{"s":"717.6nm","nm":510,"T":0.5},{"s":"717.6nm","nm":520,"T":0.8},{"s":"717.6nm","nm":530,"T":1.3},{"s":"717.6nm","nm":540,"T":2.2},{"s":"717.6nm","nm":550,"T":4},{"s":"717.6nm","nm":560,"T":8.5},{"s":"717.6nm","nm":570,"T":15},{"s":"717.6nm","nm":580,"T":22.5},{"s":"717.6nm","nm":590,"T":30.5},
      {"s":"717.6nm","nm":600,"T":38.5},{"s":"717.6nm","nm":610,"T":46},{"s":"717.6nm","nm":620,"T":52.5},{"s":"717.6nm","nm":630,"T":58},{"s":"717.6nm","nm":640,"T":62.5},{"s":"717.6nm","nm":650,"T":66},{"s":"717.6nm","nm":660,"T":68.5},{"s":"717.6nm","nm":670,"T":70},{"s":"717.6nm","nm":680,"T":71},{"s":"717.6nm","nm":690,"T":72},
      {"s":"717.6nm","nm":700,"T":73},{"s":"717.6nm","nm":710,"T":73.6},{"s":"717.6nm","nm":720,"T":74.2},{"s":"717.6nm","nm":730,"T":74.8},{"s":"717.6nm","nm":740,"T":75.5},{"s":"717.6nm","nm":750,"T":76.3},{"s":"717.6nm","nm":760,"T":77},{"s":"717.6nm","nm":770,"T":77.6},{"s":"717.6nm","nm":780,"T":78.1},{"s":"717.6nm","nm":790,"T":78.5},
      {"s":"717.6nm","nm":800,"T":79},{"s":"717.6nm","nm":810,"T":79.5},{"s":"717.6nm","nm":820,"T":80.1},{"s":"717.6nm","nm":830,"T":80.7},{"s":"717.6nm","nm":840,"T":81.2},{"s":"717.6nm","nm":850,"T":81.5},{"s":"717.6nm","nm":860,"T":81.6},{"s":"717.6nm","nm":870,"T":81.6},{"s":"717.6nm","nm":880,"T":81.6},{"s":"717.6nm","nm":890,"T":81.7},
      {"s":"717.6nm","nm":900,"T":81.9},{"s":"717.6nm","nm":910,"T":82.3},{"s":"717.6nm","nm":920,"T":82.9},{"s":"717.6nm","nm":930,"T":83.4},{"s":"717.6nm","nm":940,"T":83.8},{"s":"717.6nm","nm":950,"T":84.1},{"s":"717.6nm","nm":960,"T":84.2},{"s":"717.6nm","nm":970,"T":84.2},{"s":"717.6nm","nm":980,"T":84.1},{"s":"717.6nm","nm":990,"T":83.9},
      {"s":"717.6nm","nm":1000,"T":83.7},{"s":"717.6nm","nm":1010,"T":83.5},{"s":"717.6nm","nm":1020,"T":83.4},{"s":"717.6nm","nm":1030,"T":83.4},{"s":"717.6nm","nm":1040,"T":83.5},{"s":"717.6nm","nm":1050,"T":83.8},{"s":"717.6nm","nm":1060,"T":84.2},{"s":"717.6nm","nm":1070,"T":84.7},{"s":"717.6nm","nm":1080,"T":85.3},{"s":"717.6nm","nm":1090,"T":85.8},
      {"s":"717.6nm","nm":1100,"T":86.3},{"s":"717.6nm","nm":1110,"T":86.6},{"s":"717.6nm","nm":1120,"T":86.8},{"s":"717.6nm","nm":1130,"T":86.9},{"s":"717.6nm","nm":1140,"T":86.8},{"s":"717.6nm","nm":1150,"T":86.5},{"s":"717.6nm","nm":1160,"T":86.1},{"s":"717.6nm","nm":1170,"T":85.5},{"s":"717.6nm","nm":1180,"T":84.9},{"s":"717.6nm","nm":1190,"T":84.3},
      {"s":"717.6nm","nm":1200,"T":83.7},{"s":"717.6nm","nm":1210,"T":83.2},{"s":"717.6nm","nm":1220,"T":82.9},{"s":"717.6nm","nm":1230,"T":82.7},{"s":"717.6nm","nm":1240,"T":82.7},{"s":"717.6nm","nm":1250,"T":82.9},{"s":"717.6nm","nm":1260,"T":83.3},{"s":"717.6nm","nm":1270,"T":84},{"s":"717.6nm","nm":1280,"T":84.8},{"s":"717.6nm","nm":1290,"T":85.7},
      {"s":"717.6nm","nm":1300,"T":86.6},{"s":"717.6nm","nm":1310,"T":87.5},{"s":"717.6nm","nm":1320,"T":88.2},{"s":"717.6nm","nm":1330,"T":88.8},{"s":"717.6nm","nm":1340,"T":89.2},{"s":"717.6nm","nm":1350,"T":89.4},{"s":"717.6nm","nm":1360,"T":89.3},{"s":"717.6nm","nm":1370,"T":89},{"s":"717.6nm","nm":1380,"T":88.5},{"s":"717.6nm","nm":1390,"T":87.8},
      {"s":"717.6nm","nm":1400,"T":87},{"s":"717.6nm","nm":1410,"T":86.1},{"s":"717.6nm","nm":1420,"T":85.2},{"s":"717.6nm","nm":1430,"T":84.3},{"s":"717.6nm","nm":1440,"T":83.5},{"s":"717.6nm","nm":1450,"T":82.8},{"s":"717.6nm","nm":1460,"T":82.2},{"s":"717.6nm","nm":1470,"T":81.8},{"s":"717.6nm","nm":1480,"T":81.6},{"s":"717.6nm","nm":1490,"T":81.5},
      {"s":"717.6nm","nm":1500,"T":81.5},{"s":"717.6nm","nm":1510,"T":81.7},{"s":"717.6nm","nm":1520,"T":82},{"s":"717.6nm","nm":1530,"T":82.6},{"s":"717.6nm","nm":1540,"T":83.3},{"s":"717.6nm","nm":1550,"T":84.2},{"s":"717.6nm","nm":1560,"T":85.1},{"s":"717.6nm","nm":1570,"T":86.1},{"s":"717.6nm","nm":1580,"T":87.1},{"s":"717.6nm","nm":1590,"T":88},
      {"s":"717.6nm","nm":1600,"T":88.9},{"s":"717.6nm","nm":1610,"T":89.7},{"s":"717.6nm","nm":1620,"T":90.4},{"s":"717.6nm","nm":1630,"T":90.9},{"s":"717.6nm","nm":1640,"T":91.4},{"s":"717.6nm","nm":1650,"T":91.7},{"s":"717.6nm","nm":1660,"T":91.9},{"s":"717.6nm","nm":1670,"T":92},{"s":"717.6nm","nm":1680,"T":92},{"s":"717.6nm","nm":1690,"T":91.9},
      {"s":"717.6nm","nm":1700,"T":91.6},{"s":"717.6nm","nm":1710,"T":91.2},{"s":"717.6nm","nm":1720,"T":90.6},{"s":"717.6nm","nm":1730,"T":89.9},{"s":"717.6nm","nm":1740,"T":89.1},{"s":"717.6nm","nm":1750,"T":88.2},{"s":"717.6nm","nm":1760,"T":87.3},{"s":"717.6nm","nm":1770,"T":86.3},{"s":"717.6nm","nm":1780,"T":85.3},{"s":"717.6nm","nm":1790,"T":84.3},
      {"s":"717.6nm","nm":1800,"T":83.4},{"s":"717.6nm","nm":1810,"T":82.6},{"s":"717.6nm","nm":1820,"T":81.8},{"s":"717.6nm","nm":1830,"T":81.2},{"s":"717.6nm","nm":1840,"T":80.6},{"s":"717.6nm","nm":1850,"T":80.2},{"s":"717.6nm","nm":1860,"T":79.9},{"s":"717.6nm","nm":1870,"T":79.7},{"s":"717.6nm","nm":1880,"T":79.6},{"s":"717.6nm","nm":1890,"T":79.6},
      {"s":"717.6nm","nm":1900,"T":79.7},{"s":"717.6nm","nm":1910,"T":79.9},{"s":"717.6nm","nm":1920,"T":80.2},{"s":"717.6nm","nm":1930,"T":80.6},{"s":"717.6nm","nm":1940,"T":81.1},{"s":"717.6nm","nm":1950,"T":81.7},{"s":"717.6nm","nm":1960,"T":82.3},{"s":"717.6nm","nm":1970,"T":83},{"s":"717.6nm","nm":1980,"T":83.7},{"s":"717.6nm","nm":1990,"T":84.4},
      {"s":"717.6nm","nm":2000,"T":85.2},{"s":"717.6nm","nm":2010,"T":85.9},{"s":"717.6nm","nm":2020,"T":86.7},{"s":"717.6nm","nm":2030,"T":87.4},{"s":"717.6nm","nm":2040,"T":88.1},{"s":"717.6nm","nm":2050,"T":88.8},{"s":"717.6nm","nm":2060,"T":89.4},{"s":"717.6nm","nm":2070,"T":90},{"s":"717.6nm","nm":2080,"T":90.6},{"s":"717.6nm","nm":2090,"T":91.1},
      {"s":"717.6nm","nm":2100,"T":91.6},{"s":"717.6nm","nm":2110,"T":92},{"s":"717.6nm","nm":2120,"T":92.4},{"s":"717.6nm","nm":2130,"T":92.7},{"s":"717.6nm","nm":2140,"T":93},{"s":"717.6nm","nm":2150,"T":93.2},{"s":"717.6nm","nm":2160,"T":93.4},{"s":"717.6nm","nm":2170,"T":93.5},{"s":"717.6nm","nm":2180,"T":93.6},{"s":"717.6nm","nm":2190,"T":93.6},
      {"s":"717.6nm","nm":2200,"T":93.6},{"s":"717.6nm","nm":2210,"T":93.5},{"s":"717.6nm","nm":2220,"T":93.3},{"s":"717.6nm","nm":2230,"T":93.1},{"s":"717.6nm","nm":2240,"T":92.8},{"s":"717.6nm","nm":2250,"T":92.5},{"s":"717.6nm","nm":2260,"T":92.1},{"s":"717.6nm","nm":2270,"T":91.7},{"s":"717.6nm","nm":2280,"T":91.2},{"s":"717.6nm","nm":2290,"T":90.7},
      {"s":"717.6nm","nm":2300,"T":90.1},{"s":"717.6nm","nm":2310,"T":89.5},{"s":"717.6nm","nm":2320,"T":88.9},{"s":"717.6nm","nm":2330,"T":88.3},{"s":"717.6nm","nm":2340,"T":87.7},{"s":"717.6nm","nm":2350,"T":87.1},{"s":"717.6nm","nm":2360,"T":86.5},{"s":"717.6nm","nm":2370,"T":85.9},{"s":"717.6nm","nm":2380,"T":85.3},{"s":"717.6nm","nm":2390,"T":84.7},
      {"s":"717.6nm","nm":2400,"T":84.1},{"s":"717.6nm","nm":2410,"T":83.5},{"s":"717.6nm","nm":2420,"T":83},{"s":"717.6nm","nm":2430,"T":82.5},{"s":"717.6nm","nm":2440,"T":82},{"s":"717.6nm","nm":2450,"T":81.5},{"s":"717.6nm","nm":2460,"T":81},{"s":"717.6nm","nm":2470,"T":80.6},{"s":"717.6nm","nm":2480,"T":80.2},{"s":"717.6nm","nm":2490,"T":79.8},
      {"s":"717.6nm","nm":2500,"T":79.4},{"s":"717.6nm","nm":2510,"T":79.1},{"s":"717.6nm","nm":2520,"T":78.8},{"s":"717.6nm","nm":2530,"T":78.5},{"s":"717.6nm","nm":2540,"T":78.2},{"s":"717.6nm","nm":2550,"T":77.9},{"s":"717.6nm","nm":2560,"T":77.7},{"s":"717.6nm","nm":2570,"T":77.5},{"s":"717.6nm","nm":2580,"T":77.3},{"s":"717.6nm","nm":2590,"T":77.1},
      {"s":"717.6nm","nm":2600,"T":76.9},{"s":"717.6nm","nm":2610,"T":76.7},{"s":"717.6nm","nm":2620,"T":76.6},{"s":"717.6nm","nm":2630,"T":76.4},{"s":"717.6nm","nm":2640,"T":76.3},{"s":"717.6nm","nm":2650,"T":76.2},{"s":"717.6nm","nm":2660,"T":76.1},{"s":"717.6nm","nm":2670,"T":76},{"s":"717.6nm","nm":2680,"T":75.9}
    ]
  },
  "mark": {"type": "point", "filled": false, "opacity": 1, "clip": false},
  "encoding": {
    "x": {
      "field": "nm",
      "type": "quantitative",
      "scale": {"domain": [400, 2684], "nice": false, "zero": false},
      "axis": {
        "values": [400, 900, 1400, 1900, 2400],
        "format": "d",
        "title": "λ, (nm)",
        "labelPadding": 1,
        "titleX": 251,
        "titleY": 76,
        "titleAlign": "center",
        "titleBaseline": "alphabetic",
        "encode": {"ticks": {"update": {"y": {"value": 0}, "y2": {"value": -9}}}}
      }
    },
    "y": {
      "field": "T",
      "type": "quantitative",
      "scale": {"domain": [0, 100], "nice": false},
      "axis": {
        "values": [0, 10, 20, 30, 40, 50, 60, 70, 80, 90, 100],
        "title": "T, %",
        "labelPadding": 12,
        "titleX": -79,
        "titleY": 290,
        "titleAngle": -90,
        "titleAlign": "center",
        "titleBaseline": "middle",
        "encode": {"ticks": {"update": {"x": {"value": 0}, "x2": {"value": 9}}}}
      }
    },
    "shape": {
      "field": "s",
      "type": "nominal",
      "scale": {
        "domain": ["108.7nm", "205.5nm", "423.5nm", "602.4nm", "717.6nm"],
        "range": ["diamond", "triangle-up", "circle", "M-1,0L1,0M0,-1L0,1", "M-1,0L1,0"]
      },
      "legend": {"title": null}
    },
    "color": {
      "field": "s",
      "type": "nominal",
      "scale": {
        "domain": ["108.7nm", "205.5nm", "423.5nm", "602.4nm", "717.6nm"],
        "range": ["#000000", "#000000", "#000000", "#2f8f8c", "#000000"]
      },
      "legend": {"title": null}
    },
    "size": {
      "field": "s",
      "type": "nominal",
      "scale": {
        "type": "ordinal",
        "domain": ["108.7nm", "205.5nm", "423.5nm", "602.4nm", "717.6nm"],
        "range": [64, 55, 14, 40, 40]
      },
      "legend": {"title": null}
    },
    "strokeWidth": {
      "field": "s",
      "type": "nominal",
      "scale": {
        "type": "ordinal",
        "domain": ["108.7nm", "205.5nm", "423.5nm", "602.4nm", "717.6nm"],
        "range": [1.2, 1.2, 1.2, 1.4, 2.8]
      },
      "legend": {"title": null}
    }
  }
}
